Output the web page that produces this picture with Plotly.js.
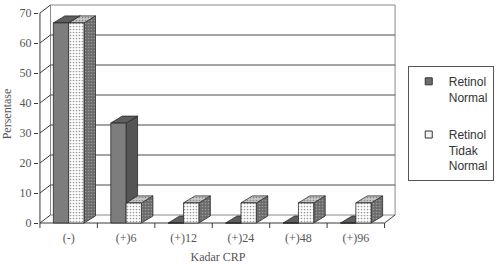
<!DOCTYPE html>
<html>
<head>
<meta charset="utf-8">
<script src="https://cdn.plot.ly/plotly-3.0.1.min.js"></script>
<style>html,body{margin:0;padding:0;background:#fff;}#chart{width:498px;height:264px;}</style>
</head>
<body>
<div id="chart"></div>
<script>
// ---- data ----
var categories = ['(-)', '(+)6', '(+)12', '(+)24', '(+)48', '(+)96'];
var retinolNormal = [66.7, 33.3, 0, 0, 0, 0];
var retinolTidakNormal = [66.7, 6.7, 6.7, 6.7, 6.7, 6.7];
var seriesNames = ['Retinol<br>Normal', 'Retinol<br>Tidak<br>Normal'];
var yTicks = [0, 10, 20, 30, 40, 50, 60, 70];

// ---- 3D look parameters (in axis units) ----
var BW = 16 / 60;      // bar width
var BDX = 12 / 60;     // bar depth, x
var BDY = 7 / 3;       // bar depth, y
var WDX = 11 / 60;     // wall depth, x
var WDY = 8 / 3;       // wall depth, y
var X0 = -0.5, X1 = categories.length - 0.5, YMAX = 70;

function faces(values, off) {
  var f = {front: {x: [], y: []}, side: {x: [], y: []}, top: {x: [], y: []}};
  values.forEach(function (v, i) {
    var xl = i + off, xr = xl + BW;
    f.side.x.push(xr, xr + BDX, xr + BDX, xr, xr, null);
    f.side.y.push(0, BDY, v + BDY, v, 0, null);
    f.top.x.push(xl, xl + BDX, xr + BDX, xr, xl, null);
    f.top.y.push(v, v + BDY, v + BDY, v, v, null);
    f.front.x.push(xl, xr, xr, xl, xl, null);
    f.front.y.push(0, 0, v, v, 0, null);
  });
  return f;
}

function poly(pts, fill, group, pattern) {
  var t = {
    type: 'scatter', mode: 'lines', x: pts.x, y: pts.y,
    fill: 'toself', fillcolor: fill,
    line: {color: '#2a2a2a', width: 0.8},
    hoverinfo: 'skip', showlegend: false, legendgroup: group
  };
  if (pattern) t.fillpattern = pattern;
  return t;
}
function legendItem(name, color, group) {
  return {type: 'scatter', mode: 'markers', x: [null], y: [null], name: name,
    legendgroup: group, showlegend: true, hoverinfo: 'skip',
    marker: {symbol: 'square', size: 7, color: color, line: {color: '#333', width: 1}}};
}

var fN = faces(retinolNormal, -BW);
var fT = faces(retinolTidakNormal, 0);
var dots = function (bg, fg) { return {shape: '.', bgcolor: bg, fgcolor: fg, size: 3, solidity: 0.25}; };

var traces = [
  poly(fN.side, '#555555', 'a'),
  poly(fN.top, '#5e5e5e', 'a'),
  poly(fN.front, '#7d7d7d', 'a'),
  legendItem(seriesNames[0], '#6e6e6e', 'a'),
  poly(fT.side, '#6a6a6a', 'b', dots('#6a6a6a', '#999999')),
  poly(fT.top, '#c8c8c8', 'b', dots('#c8c8c8', '#8a8a8a')),
  poly(fT.front, '#ffffff', 'b', dots('#ffffff', '#9a9a9a')),
  legendItem(seriesNames[1], '#f4f4f4', 'b')
];

// ---- walls, floor, gridlines ----
var shapes = [];
var wallLine = {color: '#8a8a8a', width: 1};
shapes.push({type: 'rect', xref: 'x', yref: 'y', x0: X0 + WDX, x1: X1 + WDX, y0: WDY, y1: YMAX + WDY,
  fillcolor: '#ffffff', line: wallLine, layer: 'below'});
yTicks.forEach(function (v) {
  if (v > 0 && v < YMAX) {
    shapes.push({type: 'line', xref: 'x', yref: 'y', x0: X0 + WDX, x1: X1 + WDX, y0: v + WDY, y1: v + WDY,
      line: {color: '#4a4a4a', width: 1}, layer: 'below'});
  }
  shapes.push({type: 'line', xref: 'x', yref: 'y', x0: X0, x1: X0 + WDX, y0: v, y1: v + WDY,
    line: {color: '#3a3a3a', width: 1}, layer: 'below'});
});
// left axis line and floor
shapes.push({type: 'line', xref: 'x', yref: 'y', x0: X0, x1: X0, y0: 0, y1: YMAX, line: {color: '#3a3a3a', width: 1}, layer: 'below'});
shapes.push({type: 'line', xref: 'x', yref: 'y', x0: X0, x1: X1, y0: 0, y1: 0, line: {color: '#3a3a3a', width: 1}, layer: 'below'});
shapes.push({type: 'line', xref: 'x', yref: 'y', x0: X1, x1: X1 + WDX, y0: 0, y1: WDY, line: {color: '#3a3a3a', width: 1}, layer: 'below'});
// x tick marks at category boundaries
for (var b = 0; b <= categories.length; b++) {
  shapes.push({type: 'line', xref: 'x', yref: 'paper', x0: X0 + b, x1: X0 + b, y0: 0.0045, y1: -0.018,
    line: {color: '#3a3a3a', width: 1}});
}

var serif = 'Liberation Serif, Times New Roman, serif';
var layout = {
  width: 498, height: 264,
  margin: {l: 39, r: 85, t: 4, b: 40},
  paper_bgcolor: '#ffffff', plot_bgcolor: 'rgba(0,0,0,0)',
  showlegend: true,
  xaxis: {
    range: [X0 - 1 / 60, X1 + 13 / 60], tickvals: categories.map(function (c, i) { return i; }),
    ticktext: categories, ticks: '', showgrid: false, zeroline: false, showline: false,
    ticklabelstandoff: 5,
    tickfont: {family: serif, size: 12, color: '#555'},
    title: {text: 'Kadar CRP', font: {family: serif, size: 12, color: '#555'}, standoff: 8},
    fixedrange: true
  },
  yaxis: {
    range: [-1 / 3, 73], tickvals: yTicks, ticks: 'outside', ticklen: 4, tickcolor: '#3a3a3a',
    showgrid: false, zeroline: false, showline: false,
    tickfont: {family: serif, size: 12, color: '#555'},
    title: {text: 'Persentase', font: {family: serif, size: 12, color: '#555'}, standoff: 6},
    fixedrange: true
  },
  legend: {
    x: 1.03, xanchor: 'left', y: 0.718, yanchor: 'top',
    bordercolor: '#555', borderwidth: 1, bgcolor: '#fff',
    font: {family: 'Liberation Sans, Arial, sans-serif', size: 12, color: '#333'},
    traceorder: 'grouped', tracegroupgap: 19, valign: 'top', itemwidth: 30
  },
  shapes: shapes
};

Plotly.newPlot('chart', traces, layout, {staticPlot: true, displayModeBar: false});
</script>
</body>
</html>
